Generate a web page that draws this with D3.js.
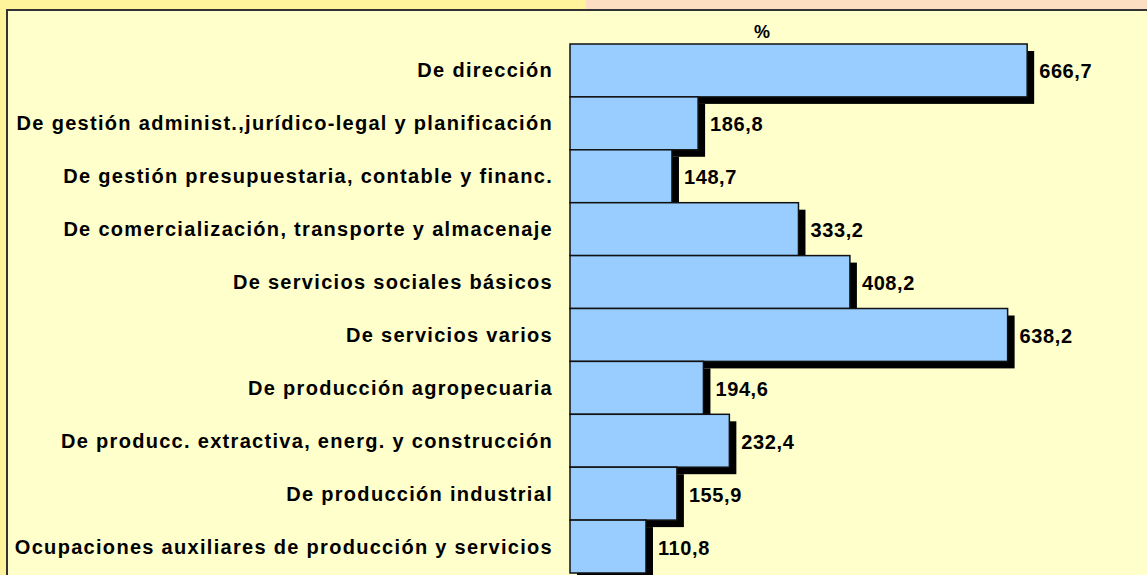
<!DOCTYPE html>
<html lang="es">
<head>
<meta charset="utf-8">
<title>Ocupaciones</title>
<script src="https://d3js.org/d3.v7.min.js"></script>
<style>
  body { margin: 0; background: #FFF39B; }
  svg { display: block; }
</style>
</head>
<body>
<script>
var categories = [
  "De dirección",
  "De gestión administ.,jurídico-legal y planificación",
  "De gestión presupuestaria, contable y financ.",
  "De comercialización, transporte y almacenaje",
  "De servicios sociales básicos",
  "De servicios varios",
  "De producción agropecuaria",
  "De producc. extractiva, energ. y construcción",
  "De producción industrial",
  "Ocupaciones auxiliares de producción y servicios"
];
var values = [666.7, 186.8, 148.7, 333.2, 408.2, 638.2, 194.6, 232.4, 155.9, 110.8];
var unitLabel = "%";

var W = 1147, H = 575;
var svg = d3.select("body").append("svg")
  .attr("width", W)
  .attr("height", H);

// frame / background
svg.append("rect").attr("x", 0).attr("y", 0).attr("width", W).attr("height", H).attr("fill", "#FFF39B");
svg.append("rect").attr("x", 586).attr("y", 0).attr("width", W - 586).attr("height", 11).attr("fill", "#FCDFC3");
svg.append("rect").attr("x", 7).attr("y", 10).attr("width", W).attr("height", H)
  .attr("fill", "#FFFFCC").attr("stroke", "#333").attr("stroke-width", 2);

var x = d3.scaleLinear().domain([0, 700]).range([570, 1050]);
var y = d3.scaleBand().domain(categories).range([44, 573]).padding(0);

var data = categories.map((c, i) => ({cat: c, val: values[i]}));
var off = 7;

// shadows first, bars over them
svg.append("g").selectAll("rect")
  .data(data).enter().append("rect")
  .attr("x", x(0) + off)
  .attr("y", d => y(d.cat) + off)
  .attr("width", d => x(d.val) - x(0))
  .attr("height", y.bandwidth())
  .attr("fill", "#000");

svg.append("g").selectAll("rect")
  .data(data).enter().append("rect")
  .attr("x", x(0))
  .attr("y", d => y(d.cat))
  .attr("width", d => x(d.val) - x(0))
  .attr("height", y.bandwidth())
  .attr("fill", "#99CCFF")
  .attr("stroke", "#111")
  .attr("stroke-width", 1.5);

var font = "'Liberation Sans', Arial, sans-serif";

svg.append("g").selectAll("text")
  .data(data).enter().append("text")
  .attr("x", 553)
  .attr("y", d => y(d.cat) + y.bandwidth() / 2 + 7)
  .attr("text-anchor", "end")
  .attr("font-family", font)
  .attr("font-weight", "bold")
  .attr("font-size", "20px")
  .attr("letter-spacing", "1.3px")
  .attr("fill", "#000")
  .text(d => d.cat);

svg.append("g").selectAll("text")
  .data(data).enter().append("text")
  .attr("x", d => x(d.val) + 12)
  .attr("y", d => y(d.cat) + y.bandwidth() / 2 + 8)
  .attr("font-family", font)
  .attr("font-weight", "bold")
  .attr("font-size", "20px")
  .attr("letter-spacing", "0.6px")
  .attr("fill", "#000")
  .text(d => d3.format(".1f")(d.val).replace(".", ","));

svg.append("text")
  .attr("x", 762)
  .attr("y", 38)
  .attr("text-anchor", "middle")
  .attr("font-family", font)
  .attr("font-weight", "bold")
  .attr("font-size", "18px")
  .text(unitLabel);
</script>
</body>
</html>
